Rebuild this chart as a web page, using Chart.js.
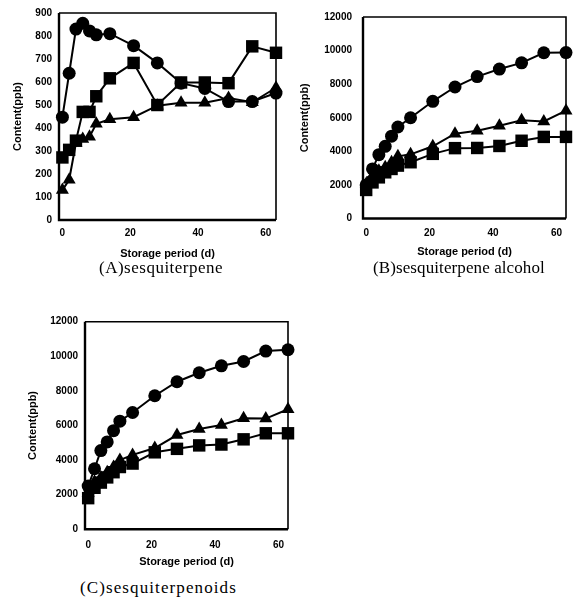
<!DOCTYPE html>
<html><head><meta charset="utf-8">
<script src="https://cdn.jsdelivr.net/npm/chart.js@4.4.1/dist/chart.umd.min.js"></script>
<style>
body{margin:0;background:#fff;width:581px;height:602px;position:relative;overflow:hidden}
canvas{position:absolute}
.cap{position:absolute;font-family:"Liberation Serif","DejaVu Serif",serif;font-size:17px;color:#000;white-space:nowrap;letter-spacing:0.5px;line-height:20px}
</style></head><body>
<canvas id="cA" width="290" height="262" style="left:0px;top:0px"></canvas>
<canvas id="cB" width="291" height="262" style="left:290px;top:0px"></canvas>
<canvas id="cC" width="300" height="272" style="left:0px;top:300px"></canvas>
<div class="cap" style="left:99px;top:258px">(A)sesquiterpene</div>
<div class="cap" style="left:373px;top:258px;letter-spacing:0.1px">(B)sesquiterpene alcohol</div>
<div class="cap" style="left:80px;top:578px;letter-spacing:1.1px">(C)sesquiterpenoids</div>
<script>
// storage period (days)
const days = [0, 2, 4, 6, 8, 10, 14, 21, 28, 35, 42, 49, 56, 63];
const xTicks = [0, 20, 40, 60];
const yTicksA = [0, 100, 200, 300, 400, 500, 600, 700, 800, 900];
const yTicksBC = [0, 2000, 4000, 6000, 8000, 10000, 12000];

// (A) sesquiterpene
const aCircle   = [447, 638, 830, 855, 822, 805, 810, 758, 683, 595, 572, 515, 515, 552];
const aSquare   = [272, 305, 345, 470, 470, 538, 616, 683, 500, 598, 598, 595, 755, 727];
const aTriangle = [130, 175, 335, 352, 362, 418, 438, 447, 497, 510, 510, 530, 512, 575];

// (B) sesquiterpene alcohol
const bCircle   = [2000, 2950, 3800, 4300, 4900, 5450, 6000, 6980, 7830, 8450, 8900, 9270, 9870, 9880];
const bSquare   = [1700, 2150, 2450, 2750, 2950, 3150, 3350, 3850, 4190, 4200, 4320, 4630, 4860, 4860];
const bTriangle = [2050, 2550, 2850, 3050, 3350, 3700, 3820, 4300, 5050, 5230, 5520, 5850, 5780, 6420];

// (C) sesquiterpenoids
const cCircle   = [2500, 3500, 4550, 5050, 5700, 6250, 6750, 7720, 8530, 9050, 9450, 9700, 10300, 10380];
const cSquare   = [1800, 2400, 2700, 3000, 3300, 3600, 3800, 4450, 4650, 4850, 4900, 5200, 5550, 5550];
const cTriangle = [2100, 2750, 3000, 3300, 3600, 4000, 4300, 4700, 5450, 5800, 6030, 6420, 6400, 6940];

const tickFont = {family: '"Liberation Sans Narrow","Liberation Sans",Arial,sans-serif', weight: 'bold', size: 10};
const titleFont = {family: '"Liberation Sans",Arial,sans-serif', weight: 'bold', size: 11};

const framePlugin = {
  id: 'frame',
  afterDatasetsDraw(chart) {
    const {ctx, chartArea: a} = chart;
    ctx.save();
    ctx.strokeStyle = '#000';
    ctx.lineWidth = 1.6;
    ctx.beginPath();
    ctx.moveTo(a.left, a.top); ctx.lineTo(a.right, a.top); ctx.lineTo(a.right, a.bottom);
    ctx.stroke();
    ctx.lineWidth = 2.4;
    ctx.beginPath();
    ctx.moveTo(a.left, a.top); ctx.lineTo(a.left, a.bottom); ctx.lineTo(a.right, a.bottom);
    ctx.stroke();
    ctx.restore();
  }
};

function ds(vals, style, r) {
  return {
    data: days.map((d, i) => ({x: d, y: vals[i]})),
    borderColor: '#000', backgroundColor: '#000', borderWidth: 2,
    pointStyle: style, pointRadius: r, pointBorderWidth: 0,
    pointBackgroundColor: '#000', tension: 0, clip: false
  };
}

function makeChart(id, cfg) {
  const W = cfg.W, H = cfg.H;
  new Chart(document.getElementById(id), {
    type: 'line',
    data: {datasets: [
      ds(cfg.tri, 'triangle', 7.5),
      ds(cfg.sq, 'rect', 8.8),
      ds(cfg.circ, 'circle', 6.5)
    ]},
    options: {
      responsive: false, animation: false, devicePixelRatio: 1,
      layout: {padding: {left: 0, right: W - cfg.right, top: cfg.top, bottom: 0}},
      plugins: {legend: {display: false}, tooltip: {enabled: false}},
      scales: {
        x: {
          type: 'linear', min: -1, max: 63,
          afterBuildTicks: s => { s.ticks = xTicks.map(v => ({value: v})); },
          afterFit: s => { s.height = H - cfg.bottom; },
          grid: {display: false, drawTicks: false},
          border: {display: false},
          ticks: {font: tickFont, color: '#000', padding: cfg.xPad, maxRotation: 0, callback: v => String(v)},
          title: {display: true, text: 'Storage period (d)', font: titleFont, color: '#000', padding: {top: 0, bottom: cfg.xTitlePad}}
        },
        y: {
          type: 'linear', min: 0, max: cfg.yTicks[cfg.yTicks.length - 1],
          afterBuildTicks: s => { s.ticks = cfg.yTicks.map(v => ({value: v})); },
          afterFit: s => { s.width = cfg.left; },
          grid: {display: false, drawTicks: false},
          border: {display: false},
          ticks: {font: tickFont, color: '#000', padding: cfg.yPad, callback: v => String(v)},
          title: {display: true, text: 'Content(ppb)', font: titleFont, color: '#000', padding: {top: cfg.yTitlePad, bottom: 0}}
        }
      }
    },
    plugins: [framePlugin]
  });
}

makeChart('cA', {W: 290, H: 262, left: 59, right: 276, top: 9, bottom: 220,
  xPad: 7, yPad: 7, xTitlePad: 1.4, yTitlePad: 11.4, yTicks: yTicksA,
  circ: aCircle, sq: aSquare, tri: aTriangle});
makeChart('cB', {W: 291, H: 262, left: 73, right: 276, top: 8, bottom: 218.5,
  xPad: 8.5, yPad: 11, xTitlePad: 3.4, yTitlePad: 8.4, yTicks: yTicksBC,
  circ: bCircle, sq: bSquare, tri: bTriangle});
makeChart('cC', {W: 300, H: 272, left: 85, right: 288, top: 21.7, bottom: 229.3,
  xPad: 9.5, yPad: 7, xTitlePad: 3.4, yTitlePad: 26.4, yTicks: yTicksBC,
  circ: cCircle, sq: cSquare, tri: cTriangle});
</script>
</body></html>
